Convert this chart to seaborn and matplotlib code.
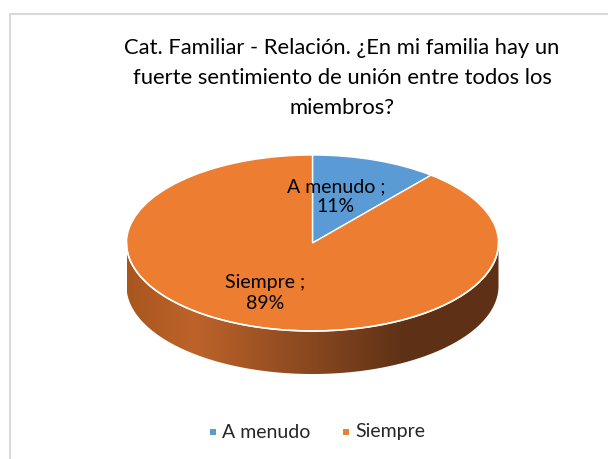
import numpy as np
import matplotlib
matplotlib.use("Agg")
import matplotlib.pyplot as plt
import seaborn as sns
from matplotlib.patches import Wedge, Polygon, Rectangle
from matplotlib.transforms import Affine2D
from matplotlib.colors import LinearSegmentedColormap

categories = ["A menudo", "Siempre"]
shares = [11, 89]
labels = ["A menudo ;\n11%", "Siempre ;\n89%"]
title_lines = ["Cat. Familiar - Relación. ¿En mi familia hay un",
               "fuerte sentimiento de unión entre todos los",
               "miembros?"]

colors = ["#5b9bd5", "#ed7d31"]

sns.set_style("white")
plt.rcParams['font.family'] = ['Lato', 'DejaVu Sans']

W, H = 608, 459
fig = plt.figure(figsize=(6.08, 4.59), dpi=100)
ax = fig.add_axes([0, 0, 1, 1])
ax.set_xlim(0, W)
ax.set_ylim(0, H)
ax.axis("off")

# chart frame (only top and left visible)
ax.plot([10, 10, W], [0, H - 14, H - 14], color="#d9d9d9", lw=1.5)

# pie geometry (pixel units, y up)
cx, cy = 312.5, H - 243
a, b = 186, 88
depth = 43
squash = Affine2D().scale(1, b / a).translate(cx, cy) + ax.transData

# side of the pie (front half) with a shaded gradient
t = np.linspace(np.pi, 2 * np.pi, 200)
top_arc = np.column_stack([cx + a * np.cos(t), cy + b * np.sin(t)])
bot_arc = np.column_stack([cx + a * np.cos(t[::-1]), cy + b * np.sin(t[::-1]) - depth])
side = Polygon(np.vstack([top_arc, bot_arc]), closed=True, facecolor="none",
               edgecolor="none", transform=ax.transData)
ax.add_patch(side)
side_cmap = LinearSegmentedColormap.from_list(
    "side", [(0, "#a9561f"), (0.18, "#bd632a"), (0.75, "#5e3116"), (1, "#5e3116")])
grad = np.linspace(0, 1, 256).reshape(1, -1)
im = ax.imshow(grad, cmap=side_cmap, aspect="auto",
               extent=[cx - a, cx + a, cy - b - depth, cy], zorder=1)
im.set_clip_path(side)
ax.set_xlim(0, W)
ax.set_ylim(0, H)

# top face: clockwise from 12 o'clock
start = 90.0
for cat, val, col in zip(categories, shares, colors):
    sweep = 360.0 * val / sum(shares)
    w = Wedge((0, 0), a, start - sweep, start, facecolor=col, edgecolor="white",
              lw=1.0, transform=squash, zorder=2)
    ax.add_patch(w)
    start -= sweep

# white rim between top face and side
ax.plot(top_arc[:, 0], top_arc[:, 1], color="white", lw=1.2, zorder=3)

# data labels
ax.text(336, H - 197, labels[0], ha="center", va="center", fontsize=14,
        color="#000000", linespacing=1.2, zorder=4)
ax.text(265, H - 293, labels[1], ha="center", va="center", fontsize=14,
        color="#000000", linespacing=1.25, zorder=4)

# title, one line every 30 px
for i, line in enumerate(title_lines):
    ax.text(342, H - 48 - 30 * i, line, ha="center", va="center", fontsize=15.8,
            color="#000000")

# legend
ax.add_patch(Rectangle((210, H - 435), 6, 6, facecolor=colors[0], edgecolor="none"))
ax.text(222, H - 432, categories[0], ha="left", va="center", fontsize=14)
ax.add_patch(Rectangle((343, H - 435), 6, 6, facecolor=colors[1], edgecolor="none"))
ax.text(355, H - 432, categories[1], ha="left", va="center", fontsize=14)

fig.savefig("out.png", dpi=100)
